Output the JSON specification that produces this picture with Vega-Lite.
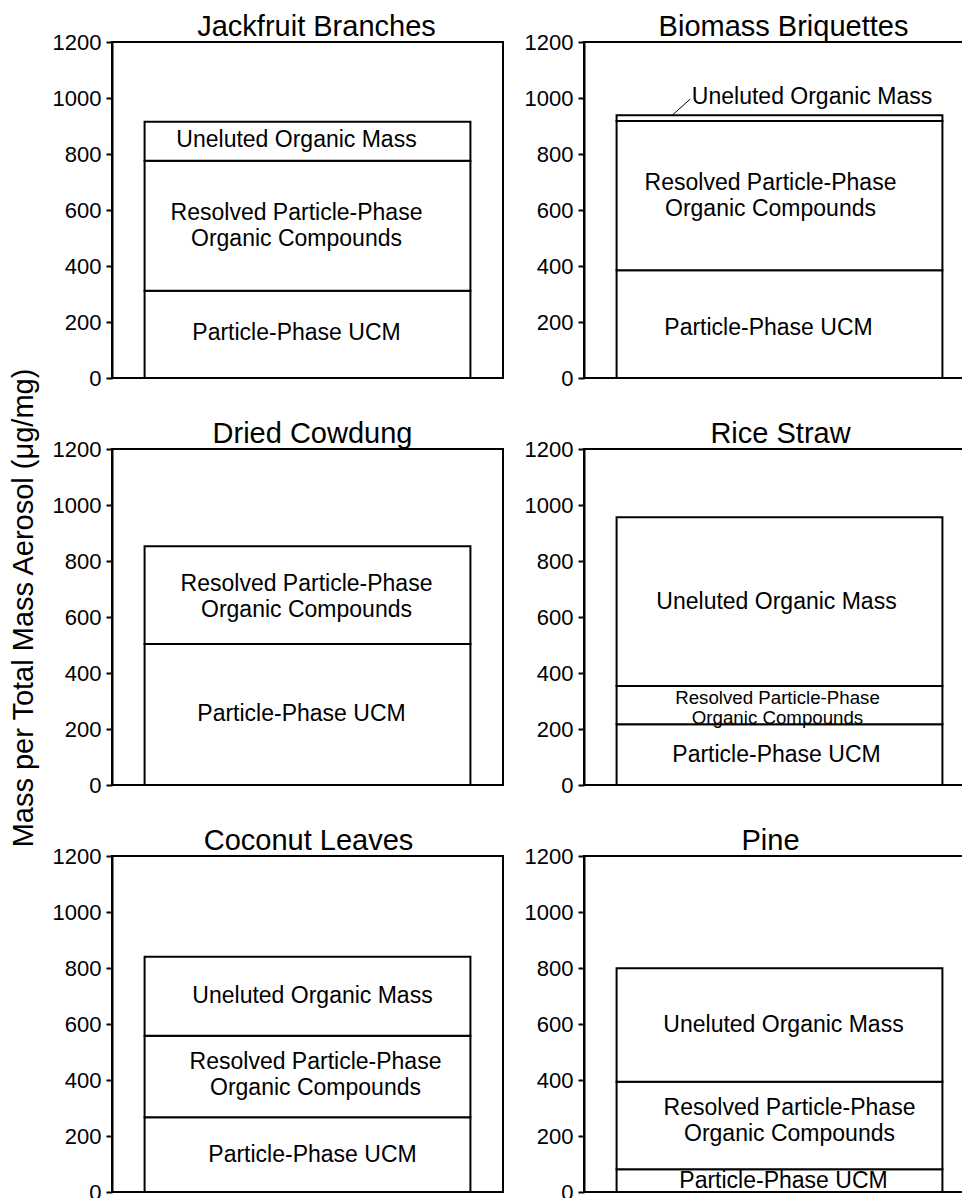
{
  "$schema": "https://vega.github.io/schema/vega-lite/v6.json",
  "padding": {"left": 10, "top": 12, "right": 0, "bottom": 0},
  "background": "white",
  "title": {"text": "Mass per Total Mass Aerosol (μg/mg)", "orient": "left", "anchor": "middle", "fontSize": 29, "fontWeight": "normal", "color": "black", "offset": 12},
  "config": {
    "font": "Liberation Sans",
    "numberFormat": "d",
    "view": {"stroke": "black", "strokeWidth": 2},
    "title": {"fontSize": 29, "fontWeight": "normal", "color": "black", "offset": -11, "font": "Liberation Sans"},
    "axisY": {"domainColor": "black", "domainWidth": 2, "tickColor": "black", "tickWidth": 2, "tickSize": 6, "labelFontSize": 22, "labelColor": "black", "labelPadding": 5, "grid": false, "title": null, "labelFont": "Liberation Sans"},
    "text": {"font": "Liberation Sans", "fontSize": 23, "color": "black", "lineBreak": "\n", "lineHeight": 26, "baseline": "middle"}
  },
  "data": {"values": [
    {"fuel": "Jackfruit Branches", "component": "Particle-Phase UCM", "value": 312},
    {"fuel": "Jackfruit Branches", "component": "Resolved Particle-Phase\nOrganic Compounds", "value": 464},
    {"fuel": "Jackfruit Branches", "component": "Uneluted Organic Mass", "value": 139},
    {"fuel": "Biomass Briquettes", "component": "Particle-Phase UCM", "value": 385},
    {"fuel": "Biomass Briquettes", "component": "Resolved Particle-Phase\nOrganic Compounds", "value": 533},
    {"fuel": "Biomass Briquettes", "component": "Uneluted Organic Mass", "value": 20},
    {"fuel": "Dried Cowdung", "component": "Particle-Phase UCM", "value": 504},
    {"fuel": "Dried Cowdung", "component": "Resolved Particle-Phase\nOrganic Compounds", "value": 349},
    {"fuel": "Rice Straw", "component": "Particle-Phase UCM", "value": 217},
    {"fuel": "Rice Straw", "component": "Resolved Particle-Phase\nOrganic Compounds", "value": 137},
    {"fuel": "Rice Straw", "component": "Uneluted Organic Mass", "value": 602},
    {"fuel": "Coconut Leaves", "component": "Particle-Phase UCM", "value": 267},
    {"fuel": "Coconut Leaves", "component": "Resolved Particle-Phase\nOrganic Compounds", "value": 291},
    {"fuel": "Coconut Leaves", "component": "Uneluted Organic Mass", "value": 282},
    {"fuel": "Pine", "component": "Particle-Phase UCM", "value": 81},
    {"fuel": "Pine", "component": "Resolved Particle-Phase\nOrganic Compounds", "value": 313},
    {"fuel": "Pine", "component": "Uneluted Organic Mass", "value": 405}
  ]},
  "columns": 2,
  "bounds": "flush",
  "spacing": {"row": 71, "column": 81},
  "concat": [
    {
      "title": {"text": "Jackfruit Branches", "dx": 9},
      "width": 391, "height": 336,
      "transform": [
        {"filter": "datum.fuel === 'Jackfruit Branches'"},
        {"stack": "value", "groupby": ["fuel"], "sort": [{"field": "component", "order": "ascending"}], "as": ["y0", "y1"]},
        {"calculate": "(datum.y0 + datum.y1) / 2", "as": "ymid"}
      ],
      "layer": [
        {"mark": {"type": "rect", "fill": "white", "stroke": "black", "strokeWidth": 2},
         "encoding": {
           "x": {"datum": 0, "type": "quantitative", "scale": {"domain": [-0.1, 1.1], "nice": false, "zero": false}, "axis": null},
           "x2": {"datum": 1},
           "y": {"field": "y0", "type": "quantitative", "scale": {"domain": [0, 1200], "nice": false}, "axis": {"values": [0, 200, 400, 600, 800, 1000, 1200], "format": "d"}},
           "y2": {"field": "y1"}}},
        {"transform": [{"filter": "indexof(datum.component, '\\n') < 0"}],
         "mark": {"type": "text", "dx": -11, "dy": -1},
         "encoding": {
           "x": {"datum": 0.5, "type": "quantitative"},
           "y": {"field": "ymid", "type": "quantitative"},
           "text": {"field": "component"}}},
        {"transform": [{"filter": "indexof(datum.component, '\\n') >= 0"}],
         "mark": {"type": "text", "dx": -11, "dy": -13},
         "encoding": {
           "x": {"datum": 0.5, "type": "quantitative"},
           "y": {"field": "ymid", "type": "quantitative"},
           "text": {"field": "component"}}}
      ]
    },
    {
      "title": {"text": "Biomass Briquettes", "dx": 4},
      "width": 391, "height": 336,
      "transform": [
        {"filter": "datum.fuel === 'Biomass Briquettes'"},
        {"stack": "value", "groupby": ["fuel"], "sort": [{"field": "component", "order": "ascending"}], "as": ["y0", "y1"]},
        {"calculate": "(datum.y0 + datum.y1) / 2", "as": "ymid"}
      ],
      "layer": [
        {"mark": {"type": "rect", "fill": "white", "stroke": "black", "strokeWidth": 2},
         "encoding": {
           "x": {"datum": 0, "type": "quantitative", "scale": {"domain": [-0.1, 1.1], "nice": false, "zero": false}, "axis": null},
           "x2": {"datum": 1},
           "y": {"field": "y0", "type": "quantitative", "scale": {"domain": [0, 1200], "nice": false}, "axis": {"values": [0, 200, 400, 600, 800, 1000, 1200], "format": "d"}},
           "y2": {"field": "y1"}}},
        {"transform": [{"filter": "datum.component === 'Particle-Phase UCM'"}],
         "mark": {"type": "text", "dx": -11, "dy": 4},
         "encoding": {
           "x": {"datum": 0.5, "type": "quantitative"},
           "y": {"field": "ymid", "type": "quantitative"},
           "text": {"field": "component"}}},
        {"transform": [{"filter": "indexof(datum.component, '\\n') >= 0"}],
         "mark": {"type": "text", "dx": -9, "dy": -13},
         "encoding": {
           "x": {"datum": 0.5, "type": "quantitative"},
           "y": {"field": "ymid", "type": "quantitative"},
           "text": {"field": "component"}}},
        {"transform": [{"filter": "datum.component === 'Uneluted Organic Mass'"}],
         "mark": {"type": "rule", "stroke": "black", "strokeWidth": 1},
         "encoding": {
           "x": {"datum": 0.17, "type": "quantitative"},
           "x2": {"datum": 0.226},
           "y": {"field": "y1", "type": "quantitative"},
           "y2": {"datum": 996}}},
        {"transform": [{"filter": "datum.component === 'Uneluted Organic Mass'"}],
         "mark": {"type": "text", "align": "left"},
         "encoding": {
           "x": {"datum": 0.231, "type": "quantitative"},
           "y": {"datum": 1003, "type": "quantitative"},
           "text": {"field": "component"}}}
      ]
    },
    {
      "title": {"text": "Dried Cowdung", "dx": 5},
      "width": 391, "height": 336,
      "transform": [
        {"filter": "datum.fuel === 'Dried Cowdung'"},
        {"stack": "value", "groupby": ["fuel"], "sort": [{"field": "component", "order": "ascending"}], "as": ["y0", "y1"]},
        {"calculate": "(datum.y0 + datum.y1) / 2", "as": "ymid"}
      ],
      "layer": [
        {"mark": {"type": "rect", "fill": "white", "stroke": "black", "strokeWidth": 2},
         "encoding": {
           "x": {"datum": 0, "type": "quantitative", "scale": {"domain": [-0.1, 1.1], "nice": false, "zero": false}, "axis": null},
           "x2": {"datum": 1},
           "y": {"field": "y0", "type": "quantitative", "scale": {"domain": [0, 1200], "nice": false}, "axis": {"values": [0, 200, 400, 600, 800, 1000, 1200], "format": "d"}},
           "y2": {"field": "y1"}}},
        {"transform": [{"filter": "indexof(datum.component, '\\n') < 0"}],
         "mark": {"type": "text", "dx": -6},
         "encoding": {
           "x": {"datum": 0.5, "type": "quantitative"},
           "y": {"field": "ymid", "type": "quantitative"},
           "text": {"field": "component"}}},
        {"transform": [{"filter": "indexof(datum.component, '\\n') >= 0"}],
         "mark": {"type": "text", "dx": -1, "dy": -11},
         "encoding": {
           "x": {"datum": 0.5, "type": "quantitative"},
           "y": {"field": "ymid", "type": "quantitative"},
           "text": {"field": "component"}}}
      ]
    },
    {
      "title": {"text": "Rice Straw", "dx": 1},
      "width": 391, "height": 336,
      "transform": [
        {"filter": "datum.fuel === 'Rice Straw'"},
        {"stack": "value", "groupby": ["fuel"], "sort": [{"field": "component", "order": "ascending"}], "as": ["y0", "y1"]},
        {"calculate": "(datum.y0 + datum.y1) / 2", "as": "ymid"}
      ],
      "layer": [
        {"mark": {"type": "rect", "fill": "white", "stroke": "black", "strokeWidth": 2},
         "encoding": {
           "x": {"datum": 0, "type": "quantitative", "scale": {"domain": [-0.1, 1.1], "nice": false, "zero": false}, "axis": null},
           "x2": {"datum": 1},
           "y": {"field": "y0", "type": "quantitative", "scale": {"domain": [0, 1200], "nice": false}, "axis": {"values": [0, 200, 400, 600, 800, 1000, 1200], "format": "d"}},
           "y2": {"field": "y1"}}},
        {"transform": [{"filter": "indexof(datum.component, '\\n') < 0"}],
         "mark": {"type": "text", "dx": -3},
         "encoding": {
           "x": {"datum": 0.5, "type": "quantitative"},
           "y": {"field": "ymid", "type": "quantitative"},
           "text": {"field": "component"}}},
        {"transform": [{"filter": "indexof(datum.component, '\\n') >= 0"}],
         "mark": {"type": "text", "dx": -2, "dy": -7, "fontSize": 18.7, "lineHeight": 20},
         "encoding": {
           "x": {"datum": 0.5, "type": "quantitative"},
           "y": {"field": "ymid", "type": "quantitative"},
           "text": {"field": "component"}}}
      ]
    },
    {
      "title": {"text": "Coconut Leaves", "dx": 1},
      "width": 391, "height": 336,
      "transform": [
        {"filter": "datum.fuel === 'Coconut Leaves'"},
        {"stack": "value", "groupby": ["fuel"], "sort": [{"field": "component", "order": "ascending"}], "as": ["y0", "y1"]},
        {"calculate": "(datum.y0 + datum.y1) / 2", "as": "ymid"}
      ],
      "layer": [
        {"mark": {"type": "rect", "fill": "white", "stroke": "black", "strokeWidth": 2},
         "encoding": {
           "x": {"datum": 0, "type": "quantitative", "scale": {"domain": [-0.1, 1.1], "nice": false, "zero": false}, "axis": null},
           "x2": {"datum": 1},
           "y": {"field": "y0", "type": "quantitative", "scale": {"domain": [0, 1200], "nice": false}, "axis": {"values": [0, 200, 400, 600, 800, 1000, 1200], "format": "d"}},
           "y2": {"field": "y1"}}},
        {"transform": [{"filter": "indexof(datum.component, '\\n') < 0"}],
         "mark": {"type": "text", "dx": 5},
         "encoding": {
           "x": {"datum": 0.5, "type": "quantitative"},
           "y": {"field": "ymid", "type": "quantitative"},
           "text": {"field": "component"}}},
        {"transform": [{"filter": "indexof(datum.component, '\\n') >= 0"}],
         "mark": {"type": "text", "dx": 8, "dy": -15},
         "encoding": {
           "x": {"datum": 0.5, "type": "quantitative"},
           "y": {"field": "ymid", "type": "quantitative"},
           "text": {"field": "component"}}}
      ]
    },
    {
      "title": {"text": "Pine", "dx": -9},
      "width": 391, "height": 336,
      "transform": [
        {"filter": "datum.fuel === 'Pine'"},
        {"stack": "value", "groupby": ["fuel"], "sort": [{"field": "component", "order": "ascending"}], "as": ["y0", "y1"]},
        {"calculate": "(datum.y0 + datum.y1) / 2", "as": "ymid"}
      ],
      "layer": [
        {"mark": {"type": "rect", "fill": "white", "stroke": "black", "strokeWidth": 2},
         "encoding": {
           "x": {"datum": 0, "type": "quantitative", "scale": {"domain": [-0.1, 1.1], "nice": false, "zero": false}, "axis": null},
           "x2": {"datum": 1},
           "y": {"field": "y0", "type": "quantitative", "scale": {"domain": [0, 1200], "nice": false}, "axis": {"values": [0, 200, 400, 600, 800, 1000, 1200], "format": "d"}},
           "y2": {"field": "y1"}}},
        {"transform": [{"filter": "indexof(datum.component, '\\n') < 0"}],
         "mark": {"type": "text", "dx": 4},
         "encoding": {
           "x": {"datum": 0.5, "type": "quantitative"},
           "y": {"field": "ymid", "type": "quantitative"},
           "text": {"field": "component"}}},
        {"transform": [{"filter": "indexof(datum.component, '\\n') >= 0"}],
         "mark": {"type": "text", "dx": 10, "dy": -18},
         "encoding": {
           "x": {"datum": 0.5, "type": "quantitative"},
           "y": {"field": "ymid", "type": "quantitative"},
           "text": {"field": "component"}}}
      ]
    }
  ]
}
